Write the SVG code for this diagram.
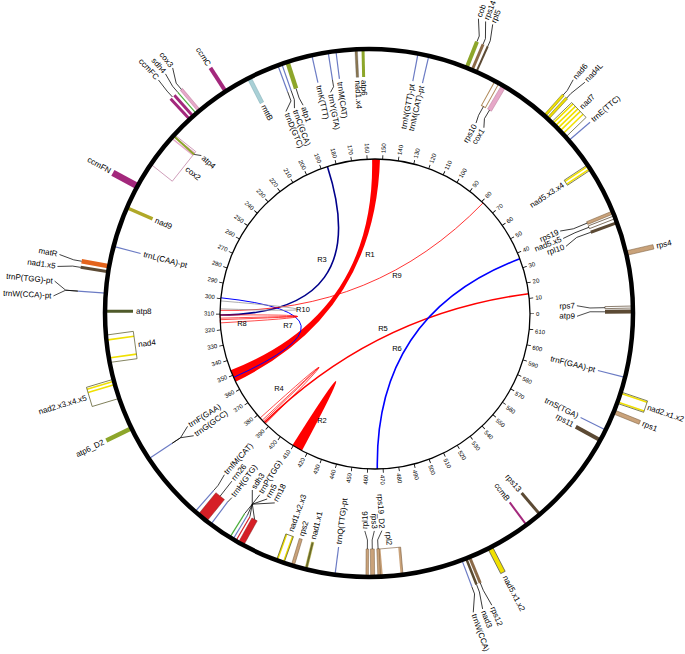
<svg xmlns="http://www.w3.org/2000/svg" width="685" height="654" viewBox="0 0 685 654">
<style>
text { font-family: "Liberation Sans", Arial, Helvetica, sans-serif; font-size: 8px; fill: #000; dominant-baseline: central; }
.tk { font-size: 6px; }
.rl { font-size: 7.5px; text-anchor: middle; }
.e { text-anchor: end; }
.ld { fill: none; stroke: #000; stroke-width: 0.7; }
.t { stroke: #6b7bc4; stroke-width: 1.2; }
.yb { fill: #f0e000; stroke: #6b6b2b; stroke-width: 0.5; }
.box { fill: none; stroke: #5a5a2a; stroke-width: 0.7; }
.ex { stroke: #f0e000; stroke-width: 1.6; }
.tan { fill: #c9a27a; stroke: #7a5c3c; stroke-width: 0.5; }
.br { fill: #8b6a48; }
.dk { fill: #5c4a34; }
.ol { fill: #8da62a; }
.pu { fill: #a3287c; }
.pk { fill: #e6a8c8; stroke: #b07090; stroke-width: 0.4; }
.rd { fill: #d61f26; }
.wo { fill: #fff; stroke: #5c4a34; stroke-width: 0.7; }
.sd { stroke: #4caf3c; stroke-width: 1.2; }
</style>
<rect width="685" height="654" fill="#fff"/>

<g id="connectors">
<path id="R1" d="M380.0 159.1 A155 155 0 0 0 372.1 159.0 Q375 314 230.6 370.2 A155 155 0 0 0 235.6 381.7 Q375 314 380.0 159.1 Z" fill="#ff0000"/>
<path id="R2" d="M292.4 445.2 A155 155 0 0 0 301.9 450.7 Q375 314 292.4 445.2 Z" fill="#ff0000"/>
<path id="R3" d="M327.4 166.5 Q375 314 220.0 315.0" fill="none" stroke="#00008b" stroke-width="1.6"/>
<path id="R4" d="M260.1 418.0 A155 155 0 0 0 262.2 420.3 Q375 314 263.3 421.4 A155 155 0 0 0 265.5 423.7 Q375 314 260.1 418.0 Z" fill="none" stroke="#ff0000" stroke-width="0.7"/>
<path id="R5" d="M528.7 293.7 Q375 314 264.4 422.6" fill="none" stroke="#ff0000" stroke-width="1.6"/>
<path id="R6" d="M519.8 258.8 Q375 314 377.3 469.0" fill="none" stroke="#0000ff" stroke-width="1.6"/>
<path id="R7" d="M220.9 297.8 Q375 314 233.6 377.4" fill="none" stroke="#0000ff" stroke-width="1"/>
<path id="R8" d="M220.0 315.0 A155 155 0 0 0 220.06 318.2 Q375 314 220.1 319.7 A155 155 0 0 0 220.3 322.9 Q375 314 220.0 315.0 Z" fill="none" stroke="#ff0000" stroke-width="0.7"/>
<path id="R9" d="M483.1 202.9 Q375 314 220.0 310.3" fill="none" stroke="#ff0000" stroke-width="0.8"/>
<path id="R10" d="M220.6 300.9 Q375 314 220.1 308.8" fill="none" stroke="#999" stroke-width="0.8"/>
<text class="rl" x="370" y="254">R1</text>
<text class="rl" x="322" y="420">R2</text>
<text class="rl" x="322" y="259">R3</text>
<text class="rl" x="279" y="388">R4</text>
<text class="rl" x="383" y="328">R5</text>
<text class="rl" x="397" y="348">R6</text>
<text class="rl" x="288" y="325">R7</text>
<text class="rl" x="242" y="323">R8</text>
<text class="rl" x="397" y="275">R9</text>
<text class="rl" x="303" y="309">R10</text>
</g>

<g id="scale">
<circle cx="375" cy="314" r="155" fill="none" stroke="#000" stroke-width="1.3"/>
<circle cx="375" cy="314" r="157" fill="none" stroke="#000" stroke-width="4" stroke-dasharray="0.8 15.111" stroke-dashoffset="0.4" transform="matrix(1 0 0 -1 0 628)"/>
<text class="tk" transform="rotate(0 375 314)" x="536" y="314">0</text>
<text class="tk" transform="rotate(-5.8 375 314)" x="536" y="314">10</text>
<text class="tk" transform="rotate(-11.6 375 314)" x="536" y="314">20</text>
<text class="tk" transform="rotate(-17.4 375 314)" x="536" y="314">30</text>
<text class="tk" transform="rotate(-23.2 375 314)" x="536" y="314">40</text>
<text class="tk" transform="rotate(-29 375 314)" x="536" y="314">50</text>
<text class="tk" transform="rotate(-34.8 375 314)" x="536" y="314">60</text>
<text class="tk" transform="rotate(-40.6 375 314)" x="536" y="314">70</text>
<text class="tk" transform="rotate(-46.4 375 314)" x="536" y="314">80</text>
<text class="tk" transform="rotate(-52.2 375 314)" x="536" y="314">90</text>
<text class="tk" transform="rotate(-58 375 314)" x="536" y="314">100</text>
<text class="tk" transform="rotate(-63.8 375 314)" x="536" y="314">110</text>
<text class="tk" transform="rotate(-69.6 375 314)" x="536" y="314">120</text>
<text class="tk" transform="rotate(-75.4 375 314)" x="536" y="314">130</text>
<text class="tk" transform="rotate(-81.2 375 314)" x="536" y="314">140</text>
<text class="tk" transform="rotate(-87 375 314)" x="536" y="314">150</text>
<text class="tk e" transform="rotate(87.2 375 314)" x="214" y="314">160</text>
<text class="tk e" transform="rotate(81.4 375 314)" x="214" y="314">170</text>
<text class="tk e" transform="rotate(75.6 375 314)" x="214" y="314">180</text>
<text class="tk e" transform="rotate(69.8 375 314)" x="214" y="314">190</text>
<text class="tk e" transform="rotate(64 375 314)" x="214" y="314">200</text>
<text class="tk e" transform="rotate(58.2 375 314)" x="214" y="314">210</text>
<text class="tk e" transform="rotate(52.4 375 314)" x="214" y="314">220</text>
<text class="tk e" transform="rotate(46.6 375 314)" x="214" y="314">230</text>
<text class="tk e" transform="rotate(40.8 375 314)" x="214" y="314">240</text>
<text class="tk e" transform="rotate(35 375 314)" x="214" y="314">250</text>
<text class="tk e" transform="rotate(29.2 375 314)" x="214" y="314">260</text>
<text class="tk e" transform="rotate(23.4 375 314)" x="214" y="314">270</text>
<text class="tk e" transform="rotate(17.6 375 314)" x="214" y="314">280</text>
<text class="tk e" transform="rotate(11.8 375 314)" x="214" y="314">290</text>
<text class="tk e" transform="rotate(6 375 314)" x="214" y="314">300</text>
<text class="tk e" transform="rotate(0.2 375 314)" x="214" y="314">310</text>
<text class="tk e" transform="rotate(-5.6 375 314)" x="214" y="314">320</text>
<text class="tk e" transform="rotate(-11.4 375 314)" x="214" y="314">330</text>
<text class="tk e" transform="rotate(-17.2 375 314)" x="214" y="314">340</text>
<text class="tk e" transform="rotate(-23 375 314)" x="214" y="314">350</text>
<text class="tk e" transform="rotate(-28.8 375 314)" x="214" y="314">360</text>
<text class="tk e" transform="rotate(-34.6 375 314)" x="214" y="314">370</text>
<text class="tk e" transform="rotate(-40.4 375 314)" x="214" y="314">380</text>
<text class="tk e" transform="rotate(-46.2 375 314)" x="214" y="314">390</text>
<text class="tk e" transform="rotate(-52 375 314)" x="214" y="314">400</text>
<text class="tk e" transform="rotate(-57.8 375 314)" x="214" y="314">410</text>
<text class="tk e" transform="rotate(-63.6 375 314)" x="214" y="314">420</text>
<text class="tk e" transform="rotate(-69.4 375 314)" x="214" y="314">430</text>
<text class="tk e" transform="rotate(-75.2 375 314)" x="214" y="314">440</text>
<text class="tk e" transform="rotate(-81 375 314)" x="214" y="314">450</text>
<text class="tk e" transform="rotate(-86.8 375 314)" x="214" y="314">460</text>
<text class="tk" transform="rotate(87.4 375 314)" x="536" y="314">470</text>
<text class="tk" transform="rotate(81.6 375 314)" x="536" y="314">480</text>
<text class="tk" transform="rotate(75.8 375 314)" x="536" y="314">490</text>
<text class="tk" transform="rotate(70 375 314)" x="536" y="314">500</text>
<text class="tk" transform="rotate(64.2 375 314)" x="536" y="314">510</text>
<text class="tk" transform="rotate(58.4 375 314)" x="536" y="314">520</text>
<text class="tk" transform="rotate(52.6 375 314)" x="536" y="314">530</text>
<text class="tk" transform="rotate(46.8 375 314)" x="536" y="314">540</text>
<text class="tk" transform="rotate(41 375 314)" x="536" y="314">550</text>
<text class="tk" transform="rotate(35.2 375 314)" x="536" y="314">560</text>
<text class="tk" transform="rotate(29.4 375 314)" x="536" y="314">570</text>
<text class="tk" transform="rotate(23.6 375 314)" x="536" y="314">580</text>
<text class="tk" transform="rotate(17.8 375 314)" x="536" y="314">590</text>
<text class="tk" transform="rotate(12 375 314)" x="536" y="314">600</text>
<text class="tk" transform="rotate(6.2 375 314)" x="536" y="314">610</text>
</g>

<g id="genes">
<g id="nad5x3x4" transform="rotate(-33.5 369 313)"><line class="ex" x1="605" y1="311.4" x2="633" y2="311.4"/><line class="ex" x1="605" y1="314.6" x2="633" y2="314.6"/><rect class="box" x="605" y="310" width="28" height="6"/><text class="e" x="602" y="313">nad5.x3.x4</text></g>
<g id="trnE" transform="rotate(-40.8 369 313)"><line class="t" x1="633" y1="313" x2="661" y2="313"/><text x="664" y="313">trnE(TTC)</text></g>
<g id="nad7" transform="rotate(-44.05 369 313)"><line class="ex" x1="633" y1="304.5" x2="661" y2="304.5"/><line class="ex" x1="633" y1="308" x2="661" y2="308"/><line class="ex" x1="633" y1="311.5" x2="661" y2="311.5"/><line class="ex" x1="633" y1="315" x2="661" y2="315"/><line class="ex" x1="633" y1="319" x2="661" y2="319"/><rect class="box" x="633" y="302.65" width="28" height="20.7"/><text x="664" y="313">nad7</text></g>
<g id="nad6"><g transform="rotate(-48.3 369 313)"><rect class="yb" x="633" y="311.75" width="28" height="2.5"/></g><g transform="rotate(-48.8 369 313)"><path class="ld" d="M661 315.5 L667 315.6 L679 313"/><text x="681" y="313">nad6</text></g></g>
<g id="nad4L"><g transform="rotate(-47.4 369 313)"><rect class="yb" x="633" y="311.75" width="28" height="2.5"/></g><g transform="rotate(-46.9 369 313)"><path class="ld" d="M661 310.5 L667 310.4 L685 313"/><text x="687" y="313">nad4L</text></g></g>
<g id="cob"><g transform="rotate(-68.3 369 313)"><rect class="ol" x="633" y="311" width="28" height="4"/></g><g transform="rotate(-69.6 369 313)"><path class="ld" d="M661 319.6 L667 319.8 L683 313"/><text x="685" y="313">cob</text></g></g>
<g id="rps14"><g transform="rotate(-67 369 313)"><rect class="br" x="633" y="311.5" width="28" height="3"/></g><g transform="rotate(-68.2 369 313)"><path class="ld" d="M661 319.1 L667 319.2 L683 313"/><text x="685" y="313">rps14</text></g></g>
<g id="rpl5"><g transform="rotate(-66 369 313)"><rect class="dk" x="633" y="312" width="28" height="2"/></g><g transform="rotate(-66.8 369 313)"><path class="ld" d="M661 317.1 L667 317.2 L683 313"/><text x="685" y="313">rpl5</text></g></g>
<g id="rps10"><g transform="rotate(-61 369 313)"><rect x="605" y="310.75" width="28" height="4.5" fill="#fff" stroke="#b08a5a" stroke-width="1"/></g><g transform="rotate(-60.6 369 313)"><path class="ld" d="M605 311.35 L595 311.4 L587 313"/><text class="e" x="585" y="313">rps10</text></g></g>
<g id="cox1"><g transform="rotate(-59.3 369 313)"><rect class="pk" x="605" y="310.75" width="28" height="4.5"/></g><g transform="rotate(-58.2 369 313)"><path class="ld" d="M605 308.5 L595 308.7 L587 313"/><text class="e" x="585" y="313">cox1</text></g></g>
<g id="trnN-pt" transform="rotate(-79.3 369 313)"><line class="t" x1="605" y1="313" x2="633" y2="313"/><text class="e" x="602" y="313">trnN(GTT)-pt</text></g>
<g id="trnM-pt" transform="rotate(-76.9 369 313)"><line class="t" x1="605" y1="313" x2="633" y2="313"/><text class="e" x="602" y="313">trnM(CAT)-pt</text></g>
<g id="rps4" transform="rotate(-13.1 369 313)"><rect class="tan" x="633" y="310.75" width="28" height="4.5"/><text x="664" y="313">rps4</text></g>
<g id="rps19"><g transform="rotate(-22.4 369 313)"><rect class="tan" x="605" y="311.5" width="28" height="3"/></g><g transform="rotate(-23.2 369 313)"><path class="ld" d="M605 316.3 L590 316.1 L577 313"/><text class="e" x="575" y="313">rps19</text></g></g>
<g id="nad5x5"><g transform="rotate(-21.3 369 313)"><rect class="wo" x="605" y="311.5" width="28" height="3"/></g><g transform="rotate(-21 369 313)"><path class="ld" d="M605 311.8 L590 311.9 L577 313"/><text class="e" x="575" y="313">nad5.x5</text></g></g>
<g id="rpl10"><g transform="rotate(-20 369 313)"><rect class="dk" x="605" y="311.5" width="28" height="3"/></g><g transform="rotate(-18.7 369 313)"><path class="ld" d="M605 307.65 L590 308 L577 313"/><text class="e" x="575" y="313">rpl10</text></g></g>
<g id="rps7"><g transform="rotate(-1.3 369 313)"><rect class="wo" x="605" y="312" width="28" height="2"/></g><g transform="rotate(-2 369 313)"><path class="ld" d="M605 315.9 L590 315.7 L577 313"/><text class="e" x="575" y="313">rps7</text></g></g>
<g id="atp9"><g transform="rotate(-0.3 369 313)"><rect class="dk" x="605" y="311" width="28" height="4"/></g><g transform="rotate(0.9 369 313)"><path class="ld" d="M605 308.1 L590 308.3 L577 313"/><text class="e" x="575" y="313">atp9</text></g></g>
<g id="trnF-pt" transform="rotate(14.1 369 313)"><line class="t" x1="605" y1="313" x2="633" y2="313"/><text class="e" x="602" y="313">trnF(GAA)-pt</text></g>
<g id="nad2x1x2" transform="rotate(18.7 369 313)"><line class="ex" x1="633" y1="308.3" x2="661" y2="308.3"/><line class="ex" x1="633" y1="317.7" x2="661" y2="317.7"/><rect class="box" x="633" y="307" width="28" height="12"/><text x="663" y="313" style="font-size:7.8px">nad2.x1.x2</text></g>
<g id="rps1" transform="rotate(22 369 313)"><rect class="tan" x="633" y="311" width="28" height="4"/><text x="664" y="313">rps1</text></g>
<g id="trnS" transform="rotate(26.3 369 313)"><line class="t" x1="605" y1="313" x2="633" y2="313"/><text class="e" x="602" y="313">trnS(TGA)</text></g>
<g id="rps11" transform="rotate(28.8 369 313)"><rect class="dk" x="605" y="311" width="28" height="4"/><text class="e" x="602" y="313">rps11</text></g>
<g id="rps13" transform="rotate(49.7 369 313)"><rect class="dk" x="605" y="311.5" width="28" height="3"/><text class="e" x="602" y="313">rps13</text></g>
<g id="ccmB" transform="rotate(53.4 369 313)"><rect class="pu" x="605" y="312" width="28" height="2"/><text class="e" x="602" y="313">ccmB</text></g>
<g id="nad5x1x2" transform="rotate(62.7 369 313)"><rect x="633" y="310.5" width="28" height="5" fill="#f0e000" stroke="#555" stroke-width="0.7"/><text x="665" y="313">nad5.x1.x2</text></g>
<g id="rps12"><g transform="rotate(67.6 369 313)"><rect class="br" x="633" y="311.5" width="28" height="3"/></g><g transform="rotate(67.2 369 313)"><path class="ld" d="M661 315 L669 315.1 L686 313"/><text x="688" y="313">rps12</text></g></g>
<g id="nad3"><g transform="rotate(68.4 369 313)"><rect x="633" y="311.75" width="28" height="2.5" fill="#5a4a30"/></g><g transform="rotate(69 369 313)"><path class="ld" d="M661 309.9 L669 309.9 L686 313"/><text x="688" y="313">nad3</text></g></g>
<g id="trnW"><g transform="rotate(69.4 369 313)"><line class="t" x1="633" y1="313" x2="661" y2="313"/></g><g transform="rotate(70.8 369 313)"><path class="ld" d="M661 305.9 L669 305.7 L686 313"/><text x="688" y="313">trnW(CCA)</text></g></g>
<g id="rpl2" transform="rotate(85.05 369 313)"><line x1="605" y1="302.9" x2="633" y2="302.9" stroke="#c9a27a" stroke-width="2.4"/><line x1="605" y1="323.1" x2="633" y2="323.1" stroke="#c9a27a" stroke-width="2.4"/><rect x="605" y="301.7" width="28" height="22.6" fill="none" stroke="#7a5c3c" stroke-width="0.6"/><text class="e" x="602" y="313">rpl2</text></g>
<g id="rps19D2"><g transform="rotate(87.8 369 313)"><rect class="tan" x="605" y="311.75" width="28" height="2.5"/></g><g transform="rotate(86.6 369 313)"><path class="ld" d="M605 317.9 L596 317.8 L587 313"/><text class="e" x="585" y="313">rps19_D2</text></g></g>
<g id="rps3"><g transform="rotate(89.2 369 313)"><rect class="tan" x="605" y="311" width="28" height="4"/></g><g transform="rotate(88.6 369 313)"><path class="ld" d="M605 315.5 L596 315.4 L587 313"/><text class="e" x="585" y="313">rps3</text></g></g>
<g id="rpl16"><g transform="rotate(-89.6 369 313)"><rect class="tan" x="105" y="311.75" width="28" height="2.5"/></g><g transform="rotate(-88.9 369 313)"><path class="ld" d="M133 315.9 L142 315.8 L151 313"/><text x="153" y="313">rpl16</text></g></g>
<g id="trnQ-pt" transform="rotate(-82.6 369 313)"><line class="t" x1="105" y1="313" x2="133" y2="313"/><text x="136" y="313">trnQ(TTG)-pt</text></g>
<g id="nad1x1" transform="rotate(-76.2 369 313)"><rect x="105" y="311.75" width="28" height="2.5" fill="#6a6a2a" stroke="#c8c040" stroke-width="0.4"/><text x="136" y="313">nad1.x1</text></g>
<g id="rps2" transform="rotate(-73.2 369 313)"><rect class="tan" x="105" y="311.5" width="28" height="3"/><text x="136" y="313">rps2</text></g>
<g id="nad1x2x3" transform="rotate(-70.35 369 313)"><line class="ex" x1="105" y1="309.8" x2="133" y2="309.8"/><line class="ex" x1="105" y1="316.2" x2="133" y2="316.2"/><rect class="box" x="105" y="309" width="28" height="8"/><text x="137" y="313">nad1.x2.x3</text></g>
<g id="rrn18"><g transform="rotate(-61 369 313)"><rect class="rd" x="105" y="310" width="28" height="6" stroke="#7a1010" stroke-width="0.4"/></g><g transform="rotate(-63.6 369 313)"><path class="ld" d="M133.2 302.3 L145.9 293.5 L157 313"/><text x="159" y="313">rrn18</text></g></g>
<g id="rrn5"><g transform="rotate(-59.7 369 313)"><rect class="rd" x="105" y="312.4" width="28" height="1.2"/></g><g transform="rotate(-61.3 369 313)"><path class="ld" d="M133.1 306.4 L145.2 302.4 L157 313"/><text x="159" y="313">rrn5</text></g></g>
<g id="trnP"><g transform="rotate(-59 369 313)"><line class="t" x1="105" y1="313" x2="133" y2="313"/></g><g transform="rotate(-59 369 313)"><path class="ld" d="M133 313 L145 311.4 L157 313"/><text x="159" y="313">trnP(TGG)</text></g></g>
<g id="sdh3"><g transform="rotate(-58.2 369 313)"><line class="sd" x1="105" y1="313" x2="133" y2="313"/></g><g transform="rotate(-56.6 369 313)"><path class="ld" d="M133.1 319.6 L145.1 320.8 L157 313"/><text x="159" y="313">sdh3</text></g></g>
<g id="trnH"><g transform="rotate(-53.2 369 313)"><line class="t" x1="105" y1="313" x2="133" y2="313"/></g><g transform="rotate(-53.4 369 313)"><path class="ld" d="M133 312.2 L139 313"/><text x="141" y="313">trnH(GTG)</text></g></g>
<g id="rrn26"><g transform="rotate(-50.9 369 313)"><rect class="rd" x="105" y="307.5" width="28" height="11" stroke="#7a1010" stroke-width="0.4"/></g><g transform="rotate(-50.8 369 313)"><path class="ld" d="M133 313.4 L152 313"/><text x="154" y="313">rrn26</text></g></g>
<g id="trnfM"><g transform="rotate(-48.8 369 313)"><line class="t" x1="105" y1="313" x2="133" y2="313"/></g><g transform="rotate(-48.2 369 313)"><path class="ld" d="M133 315.5 L140 315.4 L152 313"/><text x="154" y="313">trnfM(CAT)</text></g></g>
<g id="trnF"><g transform="rotate(-33.5 369 313)"><line class="t" x1="105" y1="313" x2="133" y2="313"/></g><g transform="rotate(-32 369 313)"><path class="ld" d="M133.1 319.2 L143.1 318.9 L155 313"/><text x="157" y="313">trnF(GAA)</text></g></g>
<g id="trnG"><g transform="rotate(-35 369 313)"><path class="ld" d="M133.1 306.8 L143.1 307.1 L155 313"/><text x="157" y="313">trnG(GCC)</text></g></g>
<g id="atp6D2" transform="rotate(-25.9 369 313)"><rect class="ol" x="77" y="310.75" width="28" height="4.5"/><text class="e" x="74" y="313">atp6_D2</text></g>
<g id="nad2x3x4x5" transform="rotate(-16.7 369 313)"><line class="ex" x1="77" y1="305" x2="105" y2="305"/><line class="ex" x1="77" y1="308.5" x2="105" y2="308.5"/><rect class="box" x="77" y="303" width="28" height="20"/><text class="e" x="74" y="313">nad2.x3.x4.x5</text></g>
<g id="nad4" transform="rotate(-7.8 369 313)"><line class="ex" x1="105" y1="304.2" x2="133" y2="304.2"/><line class="ex" x1="105" y1="322.2" x2="133" y2="322.2"/><rect class="box" x="105" y="299.2" width="28" height="27.6"/><text x="136" y="313">nad4</text></g>
<g id="atp8" transform="rotate(0.4 369 313)"><rect x="105" y="311.5" width="28" height="3" fill="#4f5a2a"/><text x="136" y="313">atp8</text></g>
<g id="trnPW-pt"><g transform="rotate(4.3 369 313)"><line class="t" x1="77" y1="313" x2="105" y2="313"/></g><g transform="rotate(5.8 369 313)"><path class="ld" d="M77.1 320.6 L65 321 L53 313"/><text class="e" x="51" y="313">trnP(TGG)-pt</text></g><g transform="rotate(3.1 369 313)"><path class="ld" d="M77.1 306.9 L65 306.6 L53 313"/><text class="e" x="51" y="313">trnW(CCA)-pt</text></g></g>
<g id="nad1x5"><g transform="rotate(9 369 313)"><rect class="dk" x="77" y="311.5" width="28" height="3"/></g><g transform="rotate(8.5 369 313)"><path class="ld" d="M77 310.5 L69 310.4 L54 313"/><text class="e" x="52" y="313">nad1.x5</text></g></g>
<g id="matR"><g transform="rotate(10.2 369 313)"><rect x="77" y="310.75" width="28" height="4.5" fill="#e4641c"/></g><g transform="rotate(10.7 369 313)"><path class="ld" d="M77 315.5 L69 315.6 L54 313"/><text class="e" x="52" y="313">matR</text></g></g>
<g id="trnL-pt" transform="rotate(14.6 369 313)"><line class="t" x1="105" y1="313" x2="133" y2="313"/><text x="136" y="313">trnL(CAA)-pt</text></g>
<g id="nad9" transform="rotate(23.5 369 313)"><rect x="105" y="311.25" width="28" height="3.5" fill="#b0a828"/><text x="136" y="313">nad9</text></g>
<g id="ccmFN" transform="rotate(28.7 369 313)"><rect class="pu" x="77" y="309.75" width="28" height="6.5"/><text class="e" x="74" y="313">ccmFN</text></g>
<g id="cox2" transform="rotate(38.4 369 313)"><line x1="105" y1="296" x2="133" y2="296" stroke="#e6a8c8" stroke-width="1.4"/><line x1="105" y1="298.6" x2="133" y2="298.6" stroke="#e6a8c8" stroke-width="1.4"/><rect x="105" y="294.1" width="28" height="37.8" fill="none" stroke="#c890b0" stroke-width="0.8"/><text x="136" y="313">cox2</text></g>
<g id="atp4"><g transform="rotate(42.2 369 313)"><rect class="ol" x="105" y="312" width="28" height="2"/></g><g transform="rotate(43.2 369 313)"><path class="ld" d="M133 317.1 L139 313"/><text x="141" y="313">atp4</text></g></g>
<g id="ccmFC"><g transform="rotate(47.2 369 313)"><rect class="pu" x="77" y="311.5" width="28" height="3"/></g><g transform="rotate(48.2 369 313)"><rect class="pu" x="77" y="311.5" width="28" height="3"/></g><g transform="rotate(47.9 369 313)"><path class="ld" d="M77 314 L69 314.05 L55 313"/><text class="e" x="53" y="313">ccmFC</text></g></g>
<g id="sdh4"><g transform="rotate(49.1 369 313)"><line class="sd" x1="77" y1="313" x2="105" y2="313"/></g><g transform="rotate(49.6 369 313)"><path class="ld" d="M77 315.55 L69 315.6 L55 313"/><text class="e" x="53" y="313">sdh4</text></g></g>
<g id="cox3"><g transform="rotate(50 369 313)"><rect class="pk" x="77" y="311.5" width="28" height="3"/></g><g transform="rotate(51.3 369 313)"><path class="ld" d="M77.1 319.6 L69.1 319.8 L55 313"/><text class="e" x="53" y="313">cox3</text></g></g>
<g id="ccmC" transform="rotate(57.1 369 313)"><rect class="pu" x="77" y="311" width="28" height="4"/><text class="e" x="74" y="313">ccmC</text></g>
<g id="mttB" transform="rotate(63 369 313)"><rect x="105" y="311" width="28" height="4" fill="#a9d0d6" stroke="#7aa8b0" stroke-width="0.4"/><text x="136" y="313">mttB</text></g>
<g id="atp1"><g transform="rotate(72 369 313)"><rect class="ol" x="105" y="310.75" width="28" height="4.5"/></g><g transform="rotate(72.4 369 313)"><path class="ld" d="M133 314.65 L143 314.6 L151 313"/><text x="153" y="313">atp1</text></g></g>
<g id="trnC"><g transform="rotate(70.7 369 313)"><line class="t" x1="105" y1="313" x2="133" y2="313"/></g><g transform="rotate(70 369 313)"><path class="ld" d="M133 310.1 L143 310.2 L151 313"/><text x="153" y="313">trnC(GCA)</text></g></g>
<g id="trnD"><g transform="rotate(69.8 369 313)"><line class="t" x1="105" y1="313" x2="133" y2="313"/></g><g transform="rotate(67.6 369 313)"><path class="ld" d="M133.2 303.9 L143.2 304.3 L151 313"/><text x="153" y="313">trnD(GTC)</text></g></g>
<g id="trnK" transform="rotate(77.5 369 313)"><line class="t" x1="105" y1="313" x2="133" y2="313"/><text x="136" y="313">trnK(TTT)</text></g>
<g id="trnY"><g transform="rotate(81.1 369 313)"><line class="t" x1="105" y1="313" x2="133" y2="313"/></g><g transform="rotate(80.1 369 313)"><path class="ld" d="M133 308.9 L140 309 L145 313"/><text x="147" y="313">trnY(GTA)</text></g></g>
<g id="trnM" transform="rotate(82.8 369 313)"><line class="t" x1="105" y1="313" x2="133" y2="313"/><text x="136" y="313">trnM(CAT)</text></g>
<g id="nad1x4" transform="rotate(87.2 369 313)"><rect x="105" y="311.75" width="28" height="2.5" fill="#8a7650" stroke="#555" stroke-width="0.3"/><text x="136" y="313">nad1.x4</text></g>
<g id="atp6" transform="rotate(88.7 369 313)"><rect class="ol" x="105" y="311.5" width="28" height="3"/><text x="136" y="313">atp6</text></g>
</g>

<circle id="ring" cx="369" cy="313" r="264" fill="none" stroke="#000" stroke-width="4.5"/>
</svg>
